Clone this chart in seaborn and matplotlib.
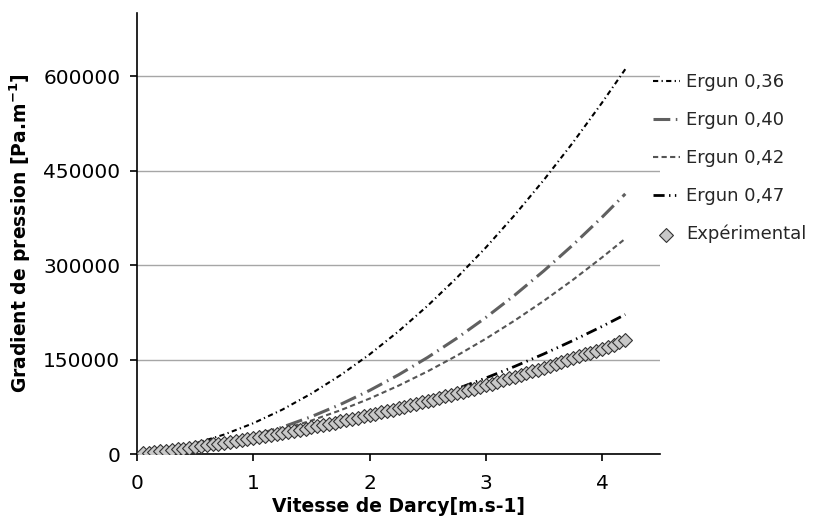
import matplotlib
matplotlib.use("Agg")
import matplotlib.pyplot as plt
import seaborn as sns

# Ergun curves
u_ergun = [0.05, 0.25, 0.5, 0.75, 1.0, 1.25, 1.5, 1.75, 2.0, 2.25,
           2.5, 2.75, 3.0, 3.25, 3.5, 3.75, 4.0, 4.2]
ergun_036 = [1000, 6600, 16900, 31100, 49000, 70600, 96100, 125300, 158200, 195000,
             235500, 279800, 327800, 379700, 435300, 494600, 557800, 611000]
ergun_040 = [400, 3100, 9000, 17500, 28800, 42800, 59500, 78900, 101000, 125900,
             153500, 183800, 216800, 252500, 291000, 332100, 376000, 413100]
ergun_042 = [500, 3600, 9300, 17100, 27000, 39100, 53300, 69600, 88100, 108700,
             131400, 156200, 183100, 212200, 243400, 276700, 312200, 342000]
ergun_047 = [500, 2900, 7100, 12600, 19400, 27500, 36900, 47700, 59700, 73000,
             87600, 103600, 120800, 139300, 159100, 180300, 202700, 221600]

# Experimental points
u_exp = [0.05, 0.10, 0.15, 0.20, 0.25, 0.30, 0.35, 0.40, 0.45, 0.50,
         0.55, 0.60, 0.65, 0.70, 0.75, 0.80, 0.85, 0.90, 0.95, 1.00,
         1.05, 1.10, 1.15, 1.20, 1.25, 1.30, 1.35, 1.40, 1.45, 1.50,
         1.55, 1.60, 1.65, 1.70, 1.75, 1.80, 1.85, 1.90, 1.95, 2.00,
         2.05, 2.10, 2.15, 2.20, 2.25, 2.30, 2.35, 2.40, 2.45, 2.50,
         2.55, 2.60, 2.65, 2.70, 2.75, 2.80, 2.85, 2.90, 2.95, 3.00,
         3.05, 3.10, 3.15, 3.20, 3.25, 3.30, 3.35, 3.40, 3.45, 3.50,
         3.55, 3.60, 3.65, 3.70, 3.75, 3.80, 3.85, 3.90, 3.95, 4.00,
         4.05, 4.10, 4.15, 4.20]
dp_exp = [1000, 2100, 3100, 4200, 5400, 6500, 7700, 8900, 10100, 11400,
          12700, 14000, 15400, 16700, 18100, 19600, 21000, 22500, 24000, 25600,
          27100, 28700, 30300, 32000, 33600, 35300, 37100, 38800, 40600, 42400,
          44200, 46100, 48000, 49900, 51900, 53800, 55800, 57900, 59900, 62000,
          64100, 66200, 68400, 70600, 72800, 75100, 77300, 79600, 82000, 84300,
          86700, 89100, 91500, 94000, 96500, 99000, 101600, 104100, 106700, 109400,
          112000, 114700, 117400, 120100, 122900, 125700, 128500, 131300, 134200, 137100,
          140000, 143000, 146000, 149000, 152000, 155100, 158200, 161300, 164400, 167600,
          170800, 174000, 177300, 180600]

y_ticks = [0, 150000, 300000, 450000, 600000]
x_ticks = [0, 1, 2, 3, 4]

sns.set_theme(style="white")
plt.rcParams['font.family'] = ['DejaVu Sans']

fig, ax = plt.subplots(figsize=(8.13, 5.25), dpi=100)
fig.subplots_adjust(left=0.1685, right=0.812, top=0.975, bottom=0.135)

sns.lineplot(x=u_ergun, y=ergun_036, ax=ax, color='black', lw=1.5,
             linestyle=(0, (2.5, 1.6, 0.6, 1.6)), label='Ergun 0,36')
sns.lineplot(x=u_ergun, y=ergun_040, ax=ax, color='#606060', lw=2.2,
             linestyle=(0, (5.5, 1.8, 0.5, 1.8)), label='Ergun 0,40')
sns.lineplot(x=u_ergun, y=ergun_042, ax=ax, color='#555555', lw=1.5,
             linestyle=(0, (2.5, 1.6)), label='Ergun 0,42')
sns.lineplot(x=u_ergun, y=ergun_047, ax=ax, color='black', lw=2.0,
             linestyle=(0, (4, 1.6, 0.5, 1.6, 0.5, 1.6)), label='Ergun 0,47')
sns.scatterplot(x=u_exp, y=dp_exp, ax=ax, marker='D', s=50, color='#c8c8c8',
                edgecolor='#333333', linewidth=0.8, label='Expérimental', zorder=3)

ax.set_xlim(0, 4.5)
ax.set_ylim(0, 700000)
ax.set_xticks(x_ticks)
ax.set_yticks(y_ticks)
ax.yaxis.grid(True, color='#a6a6a6', lw=1)
ax.set_axisbelow(True)
for s in ['top', 'right']:
    ax.spines[s].set_visible(False)
for s in ['left', 'bottom']:
    ax.spines[s].set_color('black')
    ax.spines[s].set_linewidth(1.2)
ax.tick_params(axis='both', direction='out', length=5, width=1.2, color='black',
               labelsize=14.5, labelcolor='black', bottom=True, left=True)
ax.tick_params(axis='y', pad=7)
ax.tick_params(axis='x', pad=9)

ax.set_xlabel('Vitesse de Darcy[m.s-1]', fontsize=13.5, fontweight='bold',
              color='black', labelpad=3)
ax.set_ylabel('Gradient de pression [Pa.m$^{\\mathregular{-1}}$]', fontsize=13.5,
              fontweight='bold', color='black', labelpad=7)

leg = ax.legend(loc='upper left', bbox_to_anchor=(0.955, 0.9), frameon=False,
                prop={'size': 13}, labelspacing=1.1,
                handlelength=1.5, handletextpad=0.35)

fig.savefig('out.png', dpi=100)
